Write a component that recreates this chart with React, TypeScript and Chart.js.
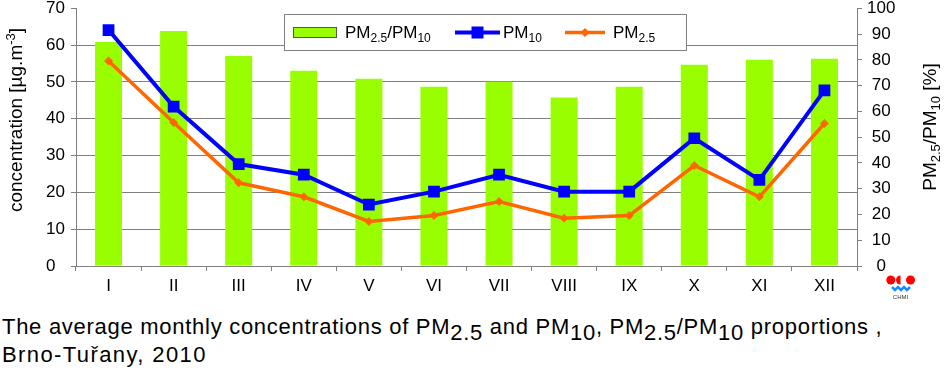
import React, { useEffect, useRef } from "react";
import { Chart, registerables } from "chart.js";

Chart.register(...registerables);

const months = ["I", "II", "III", "IV", "V", "VI", "VII", "VIII", "IX", "X", "XI", "XII"];
const pm10 = [64.1, 43.3, 27.7, 24.8, 16.7, 20.2, 24.8, 20.2, 20.2, 34.7, 23.4, 47.7];
const pm25 = [55.7, 39.0, 22.6, 18.8, 12.1, 13.7, 17.5, 13.0, 13.7, 27.3, 18.8, 38.7];
const ratio = [86.9, 91.2, 81.5, 75.8, 72.7, 69.6, 71.5, 65.4, 69.6, 78.1, 80.0, 80.4];
const concMin = 0;
const concMax = 70;
const concStep = 10;
const ratioMin = 0;
const ratioMax = 100;
const ratioStep = 10;

const FONT = '"Liberation Sans", Arial, sans-serif';
const GRID = "#808080";
const GREEN = "#99ff00";
const BLUE = "#0000ff";
const ORANGE = "#ff6600";

type Seg = { t: string; size: number; dy?: number };

function richWidth(ctx: CanvasRenderingContext2D, segs: Seg[]) {
  let w = 0;
  for (const s of segs) {
    ctx.font = `${s.size}px ${FONT}`;
    w += ctx.measureText(s.t).width;
  }
  return w;
}

function drawRich(ctx: CanvasRenderingContext2D, segs: Seg[], x: number, y: number, center: boolean) {
  let cx = center ? x - richWidth(ctx, segs) / 2 : x;
  ctx.textBaseline = "alphabetic";
  ctx.textAlign = "left";
  ctx.fillStyle = "#000";
  for (const s of segs) {
    ctx.font = `${s.size}px ${FONT}`;
    ctx.fillText(s.t, cx, y + (s.dy || 0));
    cx += ctx.measureText(s.t).width;
  }
}

const decorPlugin = {
  id: "decor",
  afterDraw(chart: any) {
    const ctx: CanvasRenderingContext2D = chart.ctx;
    ctx.save();
    // left axis title
    ctx.save();
    ctx.translate(15, 120);
    ctx.rotate(-Math.PI / 2);
    drawRich(
      ctx,
      [
        { t: "concentration [µg.m", size: 19 },
        { t: "-3", size: 13, dy: -7 },
        { t: "]", size: 19 },
      ],
      0,
      7,
      true
    );
    ctx.restore();
    // right axis title
    ctx.save();
    ctx.translate(930, 127);
    ctx.rotate(-Math.PI / 2);
    drawRich(
      ctx,
      [
        { t: "PM", size: 19 },
        { t: "2.5", size: 13, dy: 4 },
        { t: "/PM", size: 19 },
        { t: "10", size: 13, dy: 4 },
        { t: " [%]", size: 19 },
      ],
      0,
      6,
      true
    );
    ctx.restore();

    // legend box
    ctx.fillStyle = "#fff";
    ctx.fillRect(284.5, 14.5, 402, 36);
    ctx.strokeStyle = "#808080";
    ctx.lineWidth = 1;
    ctx.strokeRect(284.5, 14.5, 402, 36);
    // bar swatch
    ctx.fillStyle = GREEN;
    ctx.fillRect(293.5, 27.5, 43, 10);
    ctx.strokeStyle = "#555";
    ctx.strokeRect(293.5, 27.5, 43, 10);
    drawRich(
      ctx,
      [
        { t: "PM", size: 17 },
        { t: "2.5", size: 12, dy: 4 },
        { t: "/PM", size: 17 },
        { t: "10", size: 12, dy: 4 },
      ],
      345,
      38,
      false
    );
    // blue line
    ctx.strokeStyle = BLUE;
    ctx.lineWidth = 4;
    ctx.beginPath();
    ctx.moveTo(455, 32.5);
    ctx.lineTo(500, 32.5);
    ctx.stroke();
    ctx.fillStyle = BLUE;
    ctx.fillRect(471.5, 26.5, 12, 12);
    drawRich(
      ctx,
      [
        { t: "PM", size: 17 },
        { t: "10", size: 12, dy: 4 },
      ],
      503,
      38,
      false
    );
    // orange line
    ctx.strokeStyle = ORANGE;
    ctx.lineWidth = 3.5;
    ctx.beginPath();
    ctx.moveTo(565, 32.5);
    ctx.lineTo(605, 32.5);
    ctx.stroke();
    ctx.fillStyle = ORANGE;
    ctx.beginPath();
    ctx.moveTo(585, 28);
    ctx.lineTo(589.5, 32.5);
    ctx.lineTo(585, 37);
    ctx.lineTo(580.5, 32.5);
    ctx.closePath();
    ctx.fill();
    drawRich(
      ctx,
      [
        { t: "PM", size: 17 },
        { t: "2.5", size: 12, dy: 4 },
      ],
      613,
      38,
      false
    );

    // CHMI logo
    ctx.fillStyle = "#ff0000";
    ctx.beginPath();
    ctx.arc(890.8, 280, 4.5, 0, Math.PI * 2);
    ctx.fill();
    ctx.beginPath();
    ctx.arc(900.5, 280, 4.5, Math.PI / 2, (Math.PI * 3) / 2);
    ctx.closePath();
    ctx.fill();
    ctx.beginPath();
    ctx.arc(910.5, 280, 4.5, 0, Math.PI * 2);
    ctx.fill();
    ctx.strokeStyle = "#1a8cff";
    ctx.lineWidth = 2.5;
    ctx.beginPath();
    ctx.moveTo(892, 287);
    ctx.lineTo(895, 290);
    ctx.lineTo(898, 287);
    ctx.lineTo(901, 290);
    ctx.lineTo(904, 287);
    ctx.lineTo(907, 290);
    ctx.lineTo(910, 287);
    ctx.stroke();
    ctx.fillStyle = "#333";
    ctx.font = `6px ${FONT}`;
    ctx.textAlign = "center";
    ctx.textBaseline = "middle";
    ctx.fillText("CHMI", 900.5, 297);
    ctx.restore();
  },
};

export default function App() {
  const ref = useRef<HTMLCanvasElement>(null);

  useEffect(() => {
    if (!ref.current) return;
    const tickFont = { family: FONT, size: 17 };
    const chart = new Chart(ref.current, {
      type: "bar",
      data: {
        labels: months,
        datasets: [
          {
            type: "line",
            label: "PM10",
            data: pm10,
            yAxisID: "y",
            borderColor: BLUE,
            backgroundColor: BLUE,
            borderWidth: 4,
            pointStyle: "rect",
            pointRadius: 8.3,
            pointBorderWidth: 0,
            tension: 0,
            order: 1,
          } as any,
          {
            type: "line",
            label: "PM2.5",
            data: pm25,
            yAxisID: "y",
            borderColor: ORANGE,
            backgroundColor: ORANGE,
            borderWidth: 3.5,
            pointStyle: "rectRot",
            pointRadius: 4.5,
            pointBorderWidth: 0,
            tension: 0,
            order: 2,
          } as any,
          {
            type: "bar",
            label: "PM2.5/PM10",
            data: ratio,
            yAxisID: "y2",
            backgroundColor: GREEN,
            borderWidth: 0,
            categoryPercentage: 1,
            barPercentage: 0.415,
            order: 3,
          } as any,
        ],
      },
      options: {
        animation: false,
        responsive: false,
        events: [],
        layout: { padding: { top: 6, left: 46, right: 0, bottom: 0 } },
        plugins: { legend: { display: false }, tooltip: { enabled: false } },
        scales: {
          x: {
            offset: true,
            grid: {
              offset: true,
              drawOnChartArea: false,
              drawTicks: true,
              tickLength: 5,
              color: GRID,
              tickColor: GRID,
            },
            border: { color: GRID },
            ticks: { color: "#000", font: tickFont, padding: 5, maxRotation: 0, autoSkip: false },
            afterFit: (s: any) => {
              s.height = 34;
              s.paddingLeft = 0;
              s.paddingRight = 0;
            },
          },
          y: {
            position: "left",
            min: concMin,
            max: concMax,
            ticks: { stepSize: concStep, color: "#000", font: tickFont, crossAlign: "far" },
            grid: {
              color: (c: any) => (c.tick && c.tick.value === concMax ? "rgba(0,0,0,0)" : GRID),
              tickColor: GRID,
              tickLength: 5,
            },
            border: { color: GRID },
            afterFit: (s: any) => {
              s.width = 30;
              s.paddingTop = 0;
              s.paddingBottom = 0;
            },
          },
          y2: {
            position: "right",
            min: ratioMin,
            max: ratioMax,
            ticks: { stepSize: ratioStep, color: "#000", font: tickFont, crossAlign: "center", padding: 5 },
            grid: { drawOnChartArea: false, tickColor: GRID, tickLength: 5, color: GRID },
            border: { color: GRID },
            afterFit: (s: any) => {
              s.width = 93;
              s.paddingTop = 0;
              s.paddingBottom = 0;
            },
          },
        },
      } as any,
      plugins: [decorPlugin],
    });
    return () => chart.destroy();
  }, []);

  const sub: React.CSSProperties = { fontSize: "1em", verticalAlign: "-6px", lineHeight: 0 };

  return (
    <div style={{ position: "absolute", left: 0, top: 0, width: 950, height: 380, background: "#fff" }}>
      <canvas ref={ref} width={950} height={300} style={{ display: "block", width: 950, height: 300 }} />
      <div
        style={{
          position: "absolute",
          left: 2,
          top: 315,
          fontFamily: FONT,
          fontSize: 22,
          color: "#000",
          lineHeight: "24px",
          whiteSpace: "nowrap",
        }}
      >
        <div style={{ height: 28, letterSpacing: "0.72px" }}>
          The average monthly concentrations of PM<sub style={sub}>2.5</sub> and PM<sub style={sub}>10</sub>, PM
          <sub style={sub}>2.5</sub>/PM<sub style={sub}>10</sub> proportions ,
        </div>
        <div style={{ letterSpacing: "1.4px" }}>Brno-Tuřany, 2010</div>
      </div>
    </div>
  );
}
